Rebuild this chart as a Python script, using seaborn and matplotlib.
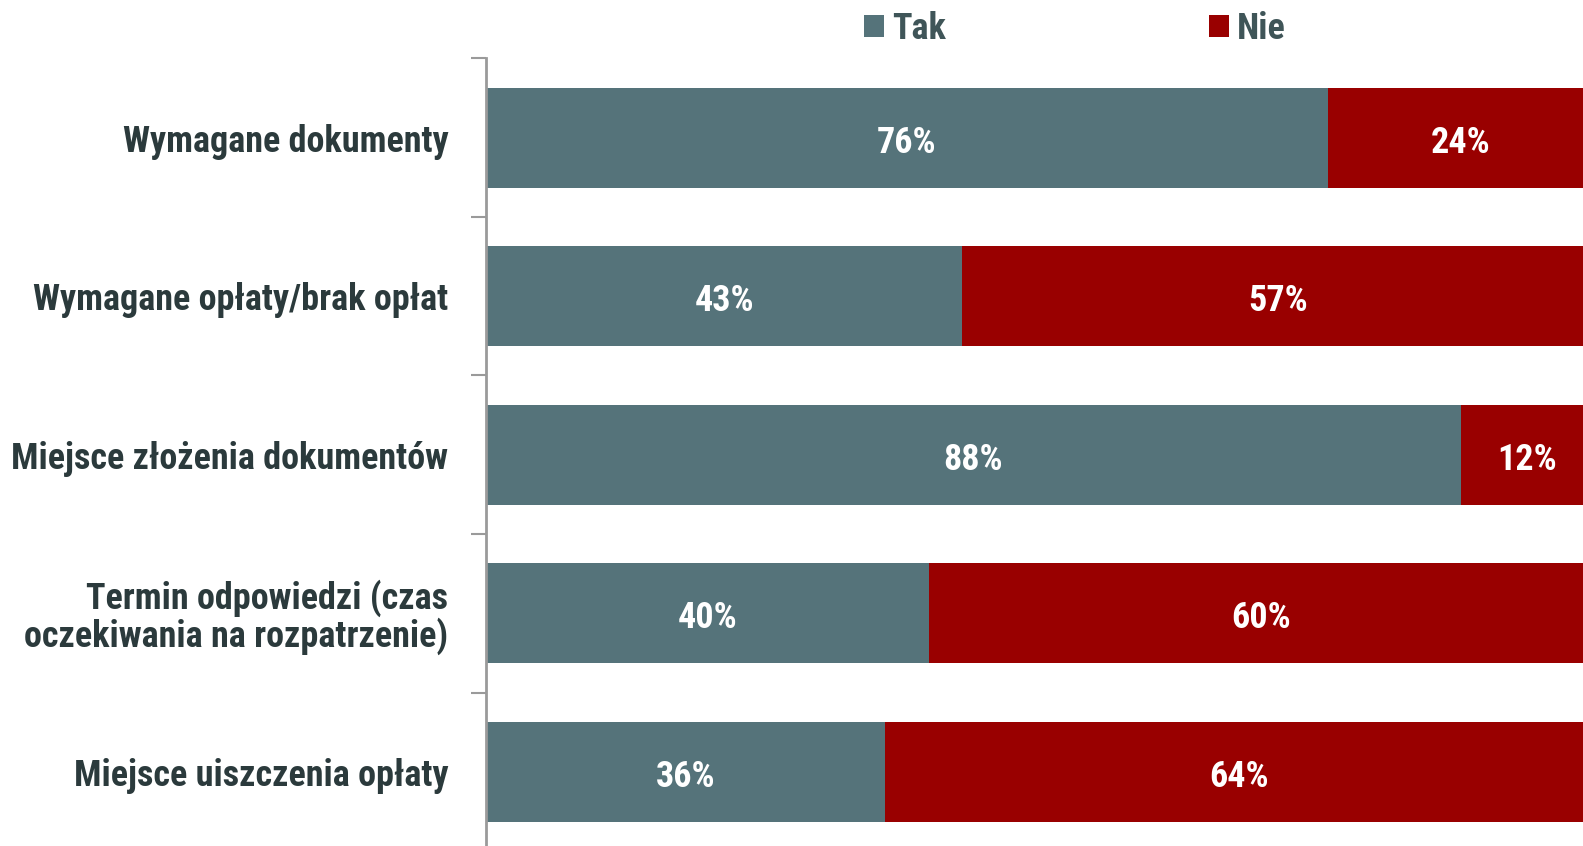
import matplotlib
matplotlib.use("Agg")
import matplotlib.pyplot as plt
from matplotlib.patches import Patch
import seaborn as sns
import pandas as pd
import numpy as np

categories = [
    "Wymagane dokumenty",
    "Wymagane opłaty/brak opłat",
    "Miejsce złożenia dokumentów",
    "Termin odpowiedzi (czas\noczekiwania na rozpatrzenie)",
    "Miejsce uiszczenia opłaty",
]
tak = [76, 43, 88, 40, 36]
nie = [24, 57, 12, 60, 64]
series_names = ["Tak", "Nie"]

TEAL = "#55737A"
RED = "#990000"
LABEL_COLOR = "#2B3A3C"
LEGEND_COLOR = "#3F5558"
AXIS_COLOR = "#9A9A9A"
FS = 26

sns.set_style("white")
plt.rcParams["font.family"] = ["Roboto Condensed", "Liberation Sans", "DejaVu Sans"]
plt.rcParams["font.weight"] = "bold"

df = pd.DataFrame({"cat": categories, "tak": tak, "nie": nie})
df["total"] = df["tak"] + df["nie"]

W, H = 1583, 846
ax_left, ax_right = 486, 1594
ax_top, ax_h = 58.5, 792.5
fig = plt.figure(figsize=(W / 100, H / 100), dpi=100)
ax = fig.add_axes([ax_left / W, (H - ax_top - ax_h) / H, (ax_right - ax_left) / W, ax_h / H])

sns.barplot(data=df, y="cat", x="total", color=RED, orient="h",
            width=0.63, linewidth=0, ax=ax, saturation=1)
sns.barplot(data=df, y="cat", x="tak", color=TEAL, orient="h",
            width=0.63, linewidth=0, ax=ax, saturation=1)

ax.set_xlim(0, 100)
ax.set_ylim(len(categories) - 0.5, -0.5)
ax.set_xlabel("")
ax.set_ylabel("")
ax.set_xticks([])

for i, (t, n) in enumerate(zip(tak, nie)):
    ax.text(t / 2, i + 0.03, f"{t}%", ha="center", va="center", color="white",
            fontsize=FS, fontweight="bold")
    ax.text(t + n / 2, i + 0.03, f"{n}%", ha="center", va="center", color="white",
            fontsize=FS, fontweight="bold")

ax.set_yticks(range(len(categories)))
ax.set_yticklabels(categories, fontsize=FS, fontweight="bold", color=LABEL_COLOR,
                   ha="right", multialignment="right", linespacing=1.0)
ax.tick_params(axis="y", which="major", length=0, pad=27)
ax.set_yticks(np.arange(-0.5, len(categories), 1.0), minor=True)
ax.tick_params(axis="y", which="minor", length=10.5, width=1.5, color=AXIS_COLOR,
               direction="out", left=True)

for s in ["top", "right", "bottom"]:
    ax.spines[s].set_visible(False)
ax.spines["left"].set_color(AXIS_COLOR)
ax.spines["left"].set_linewidth(2)

handles = [Patch(facecolor=TEAL, edgecolor="none"), Patch(facecolor=RED, edgecolor="none")]
leg = fig.legend(handles, series_names, loc="center", bbox_to_anchor=(0.679, 0.966),
                 ncol=2, frameon=False, handlelength=0.55,
                 handleheight=0.55, handletextpad=0.22, columnspacing=7.3,
                 prop={"weight": "bold", "size": FS, "family": ["Roboto Condensed", "DejaVu Sans"]})
for t in leg.get_texts():
    t.set_color(LEGEND_COLOR)

fig.savefig("out.png", dpi=100)
